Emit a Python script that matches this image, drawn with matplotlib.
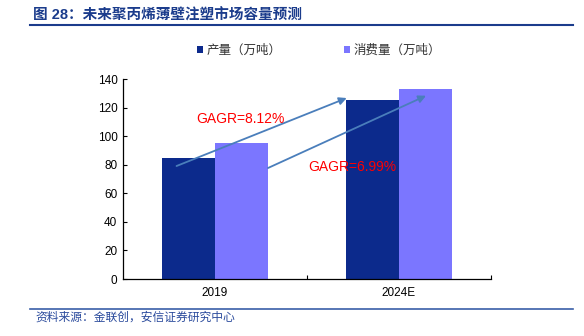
import numpy as np
import matplotlib
matplotlib.use("Agg")
import matplotlib.pyplot as plt

plt.rcParams['font.family'] = ['Liberation Sans', 'Noto Sans CJK SC', 'DejaVu Sans']

# Data
years = ["2019", "2024E"]
production = [84.7, 125.1]
consumption = [95.0, 133.2]
cagr_labels = ["GAGR=8.12%", "GAGR=6.99%"]

DARK = "#0c2a8c"
LIGHT = "#7b76ff"
ARROW = "#4a7ebb"
TITLE = "#1b3c8c"

fig = plt.figure(figsize=(5.84, 3.36), dpi=100)
ax = fig.add_axes([0.2106, 0.1696, 0.6301, 0.5952])

x = np.arange(len(years))
w = 0.29
ax.bar(x - w / 2, production, w, color=DARK, label="产量（万吨）")
ax.bar(x + w / 2, consumption, w, color=LIGHT, label="消费量（万吨）")

ax.set_xlim(-0.5, 1.5)
ax.set_ylim(0, 140)
ax.set_yticks(range(0, 141, 20))
ax.tick_params(axis='y', direction='in', length=3, labelsize=8.5, pad=4)
ax.set_xticks([0.5, 1.5])
ax.set_xticklabels([])
ax.tick_params(axis='x', direction='in', length=3)
for xi, yr in zip(x, years):
    ax.text(xi, -5.5, yr, ha='center', va='top', fontsize=8.5)
for s in ['top', 'right']:
    ax.spines[s].set_visible(False)
for s in ['left', 'bottom']:
    ax.spines[s].set_linewidth(0.9)

# growth arrows
ax.annotate("", xy=(0.716, 126.7), xytext=(-0.209, 79.1),
            arrowprops=dict(arrowstyle="-|>", color=ARROW, lw=1.3,
                            mutation_scale=11, shrinkA=0, shrinkB=0))
ax.annotate("", xy=(1.147, 128.3), xytext=(0.288, 77.7),
            arrowprops=dict(arrowstyle="-|>", color=ARROW, lw=1.3,
                            mutation_scale=11, shrinkA=0, shrinkB=0))
ax.text(0.136, 112, cagr_labels[0], color="red", fontsize=10, ha='center', va='center')
ax.text(0.745, 78.4, cagr_labels[1], color="red", fontsize=10, ha='center', va='center')

# legend
leg = fig.legend(loc='center', bbox_to_anchor=(0.546, 0.848), ncol=2, frameon=False,
                 fontsize=9, handlelength=0.5, handleheight=0.5,
                 handletextpad=0.25, columnspacing=5.0)
for t in leg.get_texts():
    t.set_color("#333333")

# header and footer
fig.text(33 / 584, 1 - 16 / 336, "图 28：未来聚丙烯薄壁注塑市场容量预测", color=TITLE,
         fontsize=10.5, fontweight='bold', va='center', ha='left')
fig.add_artist(plt.Line2D([30 / 584, 573 / 584], [1 - 25 / 336, 1 - 25 / 336],
                          color=TITLE, lw=1.5))
fig.add_artist(plt.Line2D([30 / 584, 573 / 584], [1 - 309 / 336, 1 - 309 / 336],
                          color="#3a5fa8", lw=1.2))
fig.text(35 / 584, 1 - 318 / 336, "资料来源：金联创，安信证券研究中心", color="#2a4a9c",
         fontsize=8.5, style='italic', va='center', ha='left')

fig.savefig("out.png", dpi=100)
